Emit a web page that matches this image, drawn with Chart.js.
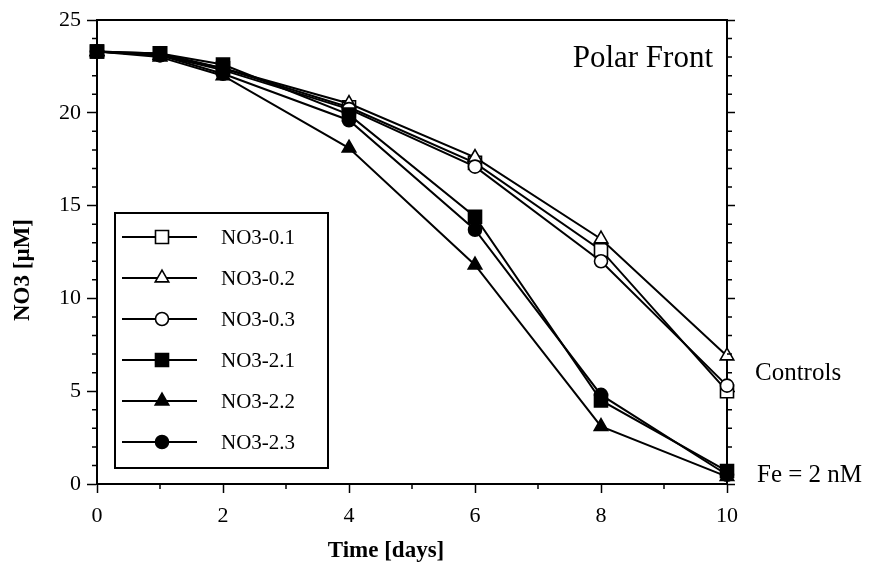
<!DOCTYPE html>
<html>
<head>
<meta charset="utf-8">
<script src="https://cdn.jsdelivr.net/npm/chart.js@4.4.0/dist/chart.umd.min.js"></script>
<style>
html, body { margin: 0; padding: 0; background: #fff; }
canvas { display: block; }
</style>
</head>
<body>
<canvas id="nitrateCanvas" width="872" height="563"></canvas>
<script>
//sampling days
var days = [0, 1, 2, 4, 6, 8, 10];
//nitrate, uM - controls
var no3_01 = [23.3, 23.2, 22.4, 20.3, 17.3, 12.6, 5.0];
var no3_02 = [23.3, 23.1, 22.4, 20.5, 17.6, 13.2, 6.9];
var no3_03 = [23.3, 23.1, 22.3, 20.2, 17.1, 12.0, 5.3];
//nitrate, uM - iron added
var no3_21 = [23.3, 23.2, 22.6, 19.9, 14.4, 4.5, 0.7];
var no3_22 = [23.3, 23.0, 22.0, 18.1, 11.8, 3.1, 0.4];
var no3_23 = [23.3, 23.1, 22.1, 19.6, 13.7, 4.8, 0.5];
var seriesNames = ["NO3-0.1", "NO3-0.2", "NO3-0.3", "NO3-2.1", "NO3-2.2", "NO3-2.3"];
var xTicks = [0, 2, 4, 6, 8, 10];
var yTicks = [0, 5, 10, 15, 20, 25];

var serif = "'Liberation Serif', 'Times New Roman', serif";

function markerStyle(shape, filled){
    var radius = 6.5;
    if(shape == "rect") radius = 9.2;
    if(shape == "triangle") radius = 7.8;
    return {
        pointStyle: shape,
        pointRadius: radius,
        pointHoverRadius: radius,
        pointBackgroundColor: filled ? "#000" : "#fff",
        pointBorderColor: "#000",
        pointBorderWidth: 1.6
    };
}

//lower order is painted on top
function makeSeries(name, values, shape, filled, order){
    var ds = {
        label: name,
        data: days.map(function(d, i){ return {x: d, y: values[i]}; }),
        borderColor: "#000",
        borderWidth: 2,
        fill: false,
        tension: 0,
        clip: false,
        order: order
    };
    return Object.assign(ds, markerStyle(shape, filled));
}

var datasets = [
    makeSeries(seriesNames[0], no3_01, "rect", false, 5),
    makeSeries(seriesNames[1], no3_02, "triangle", false, 4),
    makeSeries(seriesNames[2], no3_03, "circle", false, 3),
    makeSeries(seriesNames[3], no3_21, "rect", true, 0),
    makeSeries(seriesNames[4], no3_22, "triangle", true, 2),
    makeSeries(seriesNames[5], no3_23, "circle", true, 1)
];

//frame, minor ticks, titles, legend box and side notes
var decorPlugin = {
    id: "decor",
    beforeDraw: function(chart){
        var ctx = chart.ctx;
        ctx.save();
        ctx.fillStyle = "#fff";
        ctx.fillRect(0, 0, chart.width, chart.height);
        ctx.restore();
    },
    afterDraw: function(chart){
        var ctx = chart.ctx;
        var area = chart.chartArea;
        var xs = chart.scales.x;
        var ys = chart.scales.y;
        ctx.save();
        ctx.strokeStyle = "#000";
        ctx.lineWidth = 2;
        //top frame line
        ctx.beginPath();
        ctx.moveTo(area.left - 1, area.top);
        ctx.lineTo(area.right + 1, area.top);
        ctx.stroke();

        //minor ticks
        ctx.lineWidth = 1.5;
        ctx.beginPath();
        for(var v = 0; v <= 25; v++){
            if(v % 5 == 0) continue;
            var py = ys.getPixelForValue(v);
            ctx.moveTo(area.left - 5, py);
            ctx.lineTo(area.left, py);
            ctx.moveTo(area.right, py);
            ctx.lineTo(area.right + 5, py);
        }
        for(var d = 1; d < 10; d += 2){
            var px = xs.getPixelForValue(d);
            ctx.moveTo(px, area.bottom);
            ctx.lineTo(px, area.bottom + 5);
        }
        ctx.stroke();

        //axis titles
        ctx.fillStyle = "#000";
        ctx.font = "bold 23px " + serif;
        ctx.textAlign = "center";
        ctx.textBaseline = "middle";
        ctx.fillText("Time [days]", 386, 551);
        ctx.save();
        ctx.translate(23, 270);
        ctx.rotate(-Math.PI / 2);
        ctx.fillText("NO3 [\u00b5M]", 0, 0);
        ctx.restore();

        //notes
        ctx.font = "31px " + serif;
        ctx.textAlign = "right";
        ctx.fillText("Polar Front", 713, 59);
        ctx.font = "25px " + serif;
        ctx.textAlign = "left";
        ctx.fillText("Controls", 755, 373);
        ctx.fillText("Fe = 2 nM", 757, 475);

        //legend
        var boxLeft = 115, boxTop = 213, boxRight = 328, boxBottom = 468;
        ctx.fillStyle = "#fff";
        ctx.fillRect(boxLeft, boxTop, boxRight - boxLeft, boxBottom - boxTop);
        ctx.lineWidth = 2;
        ctx.strokeRect(boxLeft, boxTop, boxRight - boxLeft, boxBottom - boxTop);
        ctx.font = "21px " + serif;
        ctx.textBaseline = "middle";
        for(var i = 0; i < datasets.length; i++){
            var ds = datasets[i];
            var rowY = boxTop + 24 + i * 41;
            ctx.strokeStyle = "#000";
            ctx.lineWidth = 2;
            ctx.beginPath();
            ctx.moveTo(122, rowY);
            ctx.lineTo(197, rowY);
            ctx.stroke();
            ctx.fillStyle = ds.pointBackgroundColor;
            ctx.lineWidth = ds.pointBorderWidth;
            Chart.helpers.drawPoint(ctx, {
                pointStyle: ds.pointStyle,
                radius: ds.pointRadius,
                rotation: 0,
                borderWidth: ds.pointBorderWidth
            }, 162, rowY);
            ctx.fillStyle = "#000";
            ctx.fillText(ds.label, 221, rowY + 1);
        }
        ctx.restore();
    }
};

function fixedTicks(list){
    return function(axis){
        axis.ticks = list.map(function(v){ return {value: v}; });
    };
}

new Chart(document.getElementById("nitrateCanvas"), {
    type: "line",
    data: { datasets: datasets },
    options: {
        responsive: false,
        animation: false,
        layout: { padding: { top: 20, left: 0, right: 0, bottom: 0 } },
        plugins: {
            legend: { display: false },
            tooltip: { enabled: false }
        },
        scales: {
            x: {
                type: "linear",
                min: 0,
                max: 10,
                afterBuildTicks: fixedTicks(xTicks),
                afterFit: function(s){ s.height = 79; },
                border: { display: true, color: "#000", width: 2 },
                grid: { drawOnChartArea: false, drawTicks: true, tickLength: 9, tickColor: "#000", tickWidth: 1.5 },
                ticks: { color: "#000", padding: 10, font: { family: serif, size: 22 } }
            },
            y: {
                type: "linear",
                position: "left",
                min: 0,
                max: 25,
                afterBuildTicks: fixedTicks(yTicks),
                afterFit: function(s){ s.width = 97; },
                border: { display: true, color: "#000", width: 2 },
                grid: { drawOnChartArea: false, drawTicks: true, tickLength: 10, tickColor: "#000", tickWidth: 1.5 },
                ticks: { color: "#000", padding: 6, font: { family: serif, size: 22 } }
            },
            y2: {
                type: "linear",
                position: "right",
                min: 0,
                max: 25,
                afterBuildTicks: fixedTicks(yTicks),
                afterFit: function(s){ s.width = 145; },
                border: { display: true, color: "#000", width: 2 },
                grid: { drawOnChartArea: false, drawTicks: true, tickLength: 8, tickColor: "#000", tickWidth: 1.5 },
                ticks: { display: false }
            }
        }
    },
    plugins: [decorPlugin]
});
</script>
</body>
</html>
